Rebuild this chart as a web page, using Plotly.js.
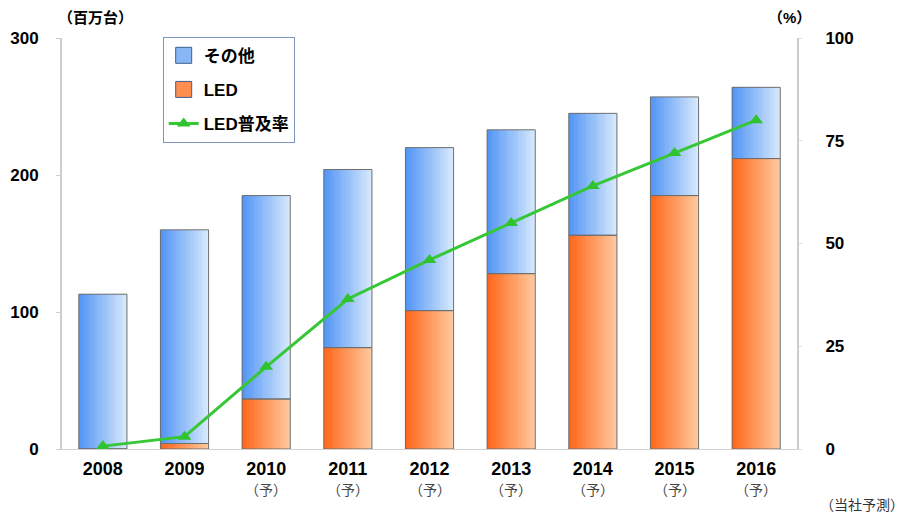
<!DOCTYPE html>
<html><head><meta charset="utf-8">
<script src="https://cdn.plot.ly/plotly-3.0.1.min.js"></script>
<style>html,body{margin:0;padding:0;background:#fff}#chart{width:903px;height:515px}</style>
</head><body><div id="chart"></div>
<script>
// ---- data ----
const years = ['2008','2009','2010','2011','2012','2013','2014','2015','2016'];
const forecastMark = ['', '', '（予）','（予）','（予）','（予）','（予）','（予）','（予）'];
const totalUnits = [113, 160, 185, 204, 220, 233, 245, 257, 264];   // 百万台
const ledUnits   = [0, 4, 36.5, 74, 101, 128, 156, 185, 212];        // 百万台
const ledRate    = [0.7, 3, 20, 36.5, 46, 55, 64, 72, 80];           // %
const otherUnits = totalUnits.map((t, i) => t - ledUnits[i]);

const FONT = "Arial, 'Liberation Sans', 'Noto Sans CJK JP', sans-serif";
const W = 0.59, N = 18;
function lerp(a, b, t) { return Math.round(a + (b - a) * t); }
function grad(c0, c1, t) { return 'rgb(' + lerp(c0[0], c1[0], t) + ',' + lerp(c0[1], c1[1], t) + ',' + lerp(c0[2], c1[2], t) + ')'; }
const blueL = [84, 150, 245], blueR = [214, 232, 252];
const orgL = [255, 104, 28], orgR = [255, 200, 156];

const traces = [];
for (let k = 0; k < N; k++) {
  const t = k / (N - 1);
  traces.push({type: 'bar', x: years, y: ledUnits, width: W / N + 0.002, offset: -W / 2 + k * W / N,
    marker: {color: grad(orgL, orgR, t), line: {width: 0}}, showlegend: false, hoverinfo: 'skip'});
  traces.push({type: 'bar', x: years, y: otherUnits, base: ledUnits, width: W / N + 0.002, offset: -W / 2 + k * W / N,
    marker: {color: grad(blueL, blueR, t), line: {width: 0}}, showlegend: false, hoverinfo: 'skip'});
}
// outlines
traces.push({type: 'bar', x: years, y: ledUnits, width: W, offset: -W / 2,
  marker: {color: 'rgba(0,0,0,0)', line: {color: '#6e6e6e', width: 1}}, showlegend: false, hoverinfo: 'skip'});
traces.push({type: 'bar', x: years, y: otherUnits, base: ledUnits, width: W, offset: -W / 2,
  marker: {color: 'rgba(0,0,0,0)', line: {color: '#6e6e6e', width: 1}}, showlegend: false, hoverinfo: 'skip'});
// legend-only entries
traces.push({type: 'scatter', mode: 'markers', x: [null], y: [null], name: 'その他', legendgroup: 'a', legendrank: 1,
  marker: {symbol: 'square', size: 17, color: grad(blueL, blueR, 0.4), line: {color: '#3f5f8f', width: 1}}});
traces.push({type: 'scatter', mode: 'markers', x: [null], y: [null], name: 'LED', legendgroup: 'b', legendrank: 2,
  marker: {symbol: 'square', size: 17, color: grad(orgL, orgR, 0.4), line: {color: '#3f5f8f', width: 1}}});
// line
traces.push({type: 'scatter', mode: 'lines+markers', x: years, y: ledRate, yaxis: 'y2', name: 'LED普及率',
  legendgroup: 'c', legendrank: 3,
  line: {color: '#36c736', width: 3}, marker: {symbol: 'triangle-up', size: 12, color: '#2fc42f'}});

const annotations = [
  {text: '（百万台）', x: 0.045, xref: 'paper', xanchor: 'center', y: 1.051, yref: 'paper', yanchor: 'middle', showarrow: false, font: {size: 15, weight: 'bold', color: '#000', family: FONT}},
  {text: '（%）', x: 0.99, xref: 'paper', xanchor: 'center', y: 1.051, yref: 'paper', yanchor: 'middle', showarrow: false, font: {size: 15, weight: 'bold', color: '#000', family: FONT}},
  {text: '（当社予測）', x: 1.088, xref: 'paper', xanchor: 'center', y: -0.136, yref: 'paper', yanchor: 'middle', showarrow: false, font: {size: 14, color: '#333', family: FONT}}
];
years.forEach((yr, i) => {
  if (forecastMark[i]) annotations.push({text: forecastMark[i], x: i, xref: 'x', xanchor: 'center', y: -0.1, yref: 'paper', yanchor: 'middle',
    showarrow: false, font: {size: 14, color: '#444', family: FONT}});
});

const layout = {
  width: 903, height: 515,
  margin: {l: 62, r: 106, t: 38, b: 66},
  paper_bgcolor: '#fff', plot_bgcolor: '#fff',
  barmode: 'overlay', bargap: 0,
  font: {family: FONT, color: '#000'},
  showlegend: true,
  legend: {x: 0.137, y: 1.003, xanchor: 'left', yanchor: 'top', bgcolor: '#fff', bordercolor: '#7d96bf', borderwidth: 1,
    font: {size: 17, weight: 'bold', color: '#000', family: FONT}, tracegroupgap: 9, traceorder: 'grouped'},
  xaxis: {type: 'category', range: [-0.5, 8.5], showgrid: false, zeroline: false,
    showline: true, linecolor: '#d2d2d2', linewidth: 1, ticks: '', fixedrange: true,
    tickfont: {size: 18, weight: 'bold', color: '#000', family: FONT}, ticklabelstandoff: 3},
  yaxis: {range: [0, 300], tickvals: [0, 100, 200, 300], showgrid: false, zeroline: false,
    showline: true, linecolor: '#cccccc', linewidth: 2, ticks: 'outside', ticklen: 4, tickcolor: '#cccccc',
    tickfont: {size: 17, weight: 'bold', color: '#000', family: FONT}, ticklabelstandoff: 14},
  yaxis2: {range: [0, 100], tickvals: [0, 25, 50, 75, 100], overlaying: 'y', side: 'right', showgrid: false, zeroline: false,
    showline: true, linecolor: '#cccccc', linewidth: 2, ticks: 'outside', ticklen: 3, tickcolor: '#dddddd',
    tickfont: {size: 17, weight: 'bold', color: '#000', family: FONT}, ticklabelstandoff: 20},
  annotations: annotations
};
Plotly.newPlot('chart', traces, layout, {displayModeBar: false, staticPlot: true});
</script></body></html>
